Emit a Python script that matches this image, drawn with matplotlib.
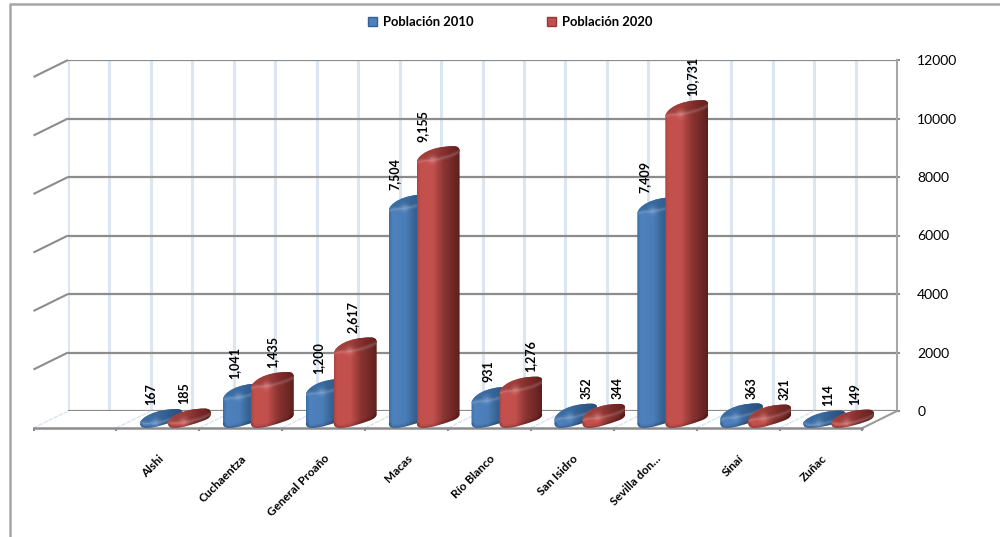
import numpy as np
import matplotlib
matplotlib.use("Agg")
import matplotlib.pyplot as plt
from matplotlib.patches import PathPatch, Patch
from matplotlib.path import Path
from matplotlib.colors import LinearSegmentedColormap
from matplotlib.lines import Line2D

plt.rcParams['font.family'] = ['Lato', 'DejaVu Sans']

# ---- data ----
categories = ["Alshi", "Cuchaentza", "General Proaño", "Macas", "Río Blanco",
              "San Isidro", "Sevilla don…", "Sinaí", "Zuñac"]
poblacion_2010 = [167, 1041, 1200, 7504, 931, 352, 7409, 363, 114]
poblacion_2020 = [185, 1435, 2617, 9155, 1276, 344, 10731, 321, 149]
series_names = ["Población 2010", "Población 2020"]
y_ticks = [0, 2000, 4000, 6000, 8000, 10000, 12000]

# ---- style / layout (pixels) ----
W, H = 1000, 537
FX0, FX1, FY = 33.5, 862.5, 428      # front floor edge
DX, DY = 34.5, 17                    # depth offset
PX_Y = 351 / 12000
PX_X = (FX1 - FX0) / 10
GREY = "#8c8c8c"
LIGHT = "#dce6f2"
label_dx_blue = [11, 11, 13, 6, 17, 32, 7, 31, 25]
label_dx_red = [16, 21, 19, 6, 31, 35, 27, 36, 24]

fig = plt.figure(figsize=(W / 100, H / 100), dpi=100)
fig.patch.set_facecolor("white")

# outer frame
fig.add_artist(Line2D([10 / W, 10 / W, 1], [0, 1 - 4 / H, 1 - 4 / H],
                      transform=fig.transFigure, color="#a6a6a6", lw=1.8))

# back wall
back = fig.add_axes([(FX0 + DX) / W, (H - FY + DY) / H, (FX1 - FX0) / W, 351 / H])
back.set_xlim(0, 10)
back.set_ylim(0, 12000)
back.patch.set_alpha(0)
for s in back.spines.values():
    s.set_visible(False)
back.spines["right"].set_visible(True)
back.spines["right"].set_color("#a6a6a6")
back.spines["right"].set_linewidth(1.5)
back.yaxis.tick_right()
back.set_yticks(y_ticks)
back.set_yticklabels([str(t) for t in y_ticks], fontsize=10, color="black")
back.tick_params(axis="y", length=2.5, width=1.5, color=GREY, pad=12)
back.set_xticks(np.arange(0, 10, 0.5))
back.tick_params(axis="x", length=0, labelbottom=False)
back.xaxis.grid(True, color=LIGHT, lw=2.2)
back.yaxis.grid(True, color=GREY, lw=1.6)
back.set_axisbelow(True)

# front plane
ax = fig.add_axes([FX0 / W, (H - FY) / H, (FX1 - FX0) / W, 351 / H])
ax.patch.set_alpha(0)
for s in ax.spines.values():
    s.set_visible(False)
ax.spines["bottom"].set_visible(True)
ax.spines["bottom"].set_color(GREY)
ax.spines["bottom"].set_linewidth(1.8)
ax.set_yticks([])
ax.set_xticks(np.arange(0, 11))
ax.set_xticklabels([])
ax.tick_params(axis="x", which="major", length=2.5, width=1.5, color=GREY)
ax.set_xticks(np.arange(len(categories)) + 1.5, minor=True)
ax.set_xticklabels(categories, minor=True, rotation=45, ha="right", va="top",
                   rotation_mode="anchor", fontsize=8.5, fontweight="bold")
ax.tick_params(axis="x", which="minor", length=0, pad=18)

Xp = lambda px: px / PX_X
Yp = lambda px: px / PX_Y

# side wall and floor depth lines
for v in y_ticks[1:]:
    ax.plot([0, Xp(DX)], [v, v + Yp(DY)], color=GREY, lw=1.5, clip_on=False,
            solid_capstyle="butt", zorder=1)
for k in range(0, 11):
    col = "#9a9a9a" if k == 10 else LIGHT
    ax.plot([k, k + Xp(DX)], [0, Yp(DY)], color=col, lw=1.1 if k < 10 else 1.5,
            ls="-" if k == 10 else (0, (3, 0.7)), clip_on=False, zorder=1)


def cmap(name, stops):
    return LinearSegmentedColormap.from_list(name, stops)


cm_blue = cmap("b", [(0, "#3a6ca5"), (.08, "#4f81bd"), (.38, "#4b7db8"), (.62, "#35608f"), (1, "#264a72")])
cm_red = cmap("r", [(0, "#ad4441"), (.07, "#c4504d"), (.38, "#c2504d"), (.62, "#8c3533"), (.85, "#712826"), (1, "#5c1f1d")])
cm_blue_cap = cmap("bc", [(0, "#3c6ea6"), (.4, "#3a6a9f"), (.7, "#315a8a"), (1, "#2a5079")])
cm_red_cap = cmap("rc", [(0, "#a6423f"), (.4, "#9c3d3a"), (.7, "#7c2c2a"), (1, "#641f1e")])
grad = np.linspace(0, 1, 128).reshape(1, -1)

BAR_W = 43


def upper_curve(h):
    lt = max(h - 2, 5)
    return [(0, lt), (1, h + 5), (14, h + 14), (37, h + 14),
            (41, h + 14), (43, h + 12.5), (43, h + 9)]


def cap_lower(h):
    lt = max(h - 2, 5)
    return [(43, h + 9), (36, h + 4), (20, h), (8, h), (4, h), (1, lt), (0, lt)]


def bottom_curve(h):
    r = min(14, h + 9)
    return [(43, r), (43, r - 3), (40, r - 5), (36, r - 6.5),
            (26, r - 10), (15, 0), (6, 0), (3, 0), (0, 1), (0, 5)]


def to_data(x0, seq):
    return [(x0 + Xp(a), Yp(b)) for a, b in seq]


def path_of(x0, seq):
    verts = to_data(x0, seq)
    codes = [Path.MOVETO] + [Path.CURVE4] * (len(seq) - 1)
    return verts, codes


def clip_to(artist, patch):
    artist.set_clip_path(patch)
    artist.set_clip_box(fig.bbox)


def draw_bar(x0, v, cm, cm_cap, hi_col, z):
    h = v * PX_Y
    xr = [x0, x0 + Xp(BAR_W), 0, v + Yp(30)]
    # body
    u, cu = path_of(x0, upper_curve(h))
    b, cb = path_of(x0, bottom_curve(h))
    verts = u + b + [u[0]]
    codes = cu + [Path.LINETO] + cb[1:] + [Path.CLOSEPOLY]
    body = PathPatch(Path(verts, codes), fc="none", ec="none", clip_on=False)
    ax.add_patch(body)
    im = ax.imshow(grad, cmap=cm, aspect="auto", interpolation="bilinear", zorder=z, extent=xr)
    clip_to(im, body)
    # soft dark bevel along the bottom
    bp = Path(b, cb)
    for lw, al in ((5, .05), (3, .07), (1.5, .08)):
        p = PathPatch(bp, fc="none", ec="black", lw=lw, alpha=al, zorder=z + .05)
        ax.add_patch(p)
        clip_to(p, body)
    # cap
    l, cl = path_of(x0, cap_lower(h))
    cap = PathPatch(Path(u + l[1:] + [u[0]], cu + cl[1:] + [Path.CLOSEPOLY]), fc="none", ec="none",
                    clip_on=False)
    ax.add_patch(cap)
    imc = ax.imshow(grad, cmap=cm_cap, aspect="auto", interpolation="bilinear", zorder=z + .1, extent=xr)
    clip_to(imc, cap)
    # soft light rim below the cap
    lp = Path(l, cl)
    for lw, al in ((3.5, .05), (2, .06), (1, .07)):
        p = PathPatch(lp, fc="none", ec="white", lw=lw, alpha=al, zorder=z + .15)
        ax.add_patch(p)
        clip_to(p, body)
    # soft highlight
    for ms, al in ((9, .08), (6, .12), (3.5, .18)):
        m, = ax.plot([x0 + Xp(15)], [Yp(h + 1.5)], marker="o", ms=ms, mfc=hi_col, mec="none",
                     alpha=al, zorder=z + .2)
        clip_to(m, body)


z = 3
for i, (a, b) in enumerate(zip(poblacion_2010, poblacion_2020)):
    left = i + 1 + Xp(23.5)
    draw_bar(left, a, cm_blue, cm_blue_cap, "#9cc0ea", z)
    draw_bar(left + Xp(28), b, cm_red, cm_red_cap, "#f0a8a4", z + 1)
    z += 2
    for x0, val, dx in ((left, a, label_dx_blue[i]), (left + Xp(28), b, label_dx_red[i])):
        ax.text(x0 + Xp(dx), val + Yp(18.5), f"{val:,}", rotation=90, ha="center", va="bottom",
                fontsize=9, fontweight="bold", color="black", zorder=50, clip_on=False)

ax.set_xlim(0, 10)
ax.set_ylim(0, 12000)

handles = [Patch(fc="#4f81bd", ec="#376092"), Patch(fc="#c0504d", ec="#953735")]
fig.legend(handles, series_names, loc="center", bbox_to_anchor=(510 / W, 1 - 22 / H), ncol=2,
           frameon=False, prop={"size": 9.4, "weight": "bold"}, handlelength=0.7, handleheight=0.7,
           handletextpad=0.45, columnspacing=5.6, borderpad=0)

fig.savefig("out.png", dpi=100, facecolor="white")
